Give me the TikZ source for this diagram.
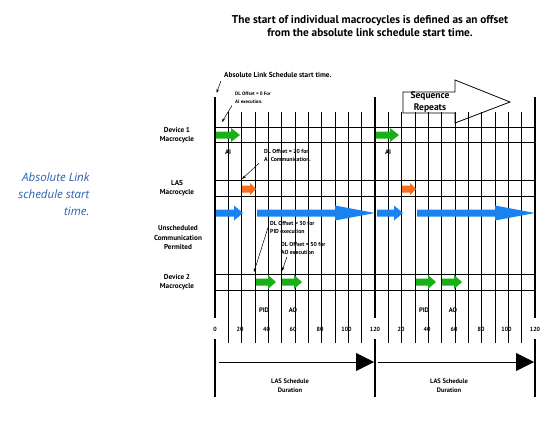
\documentclass[tikz,border=0pt]{standalone}
\usepackage{fontspec}
\setmainfont{PT Sans}
\newfontfamily\notefont{Open Sans}
\usetikzlibrary{arrows.meta}

\definecolor{lasblue}{RGB}{25,130,240}
\definecolor{devgreen}{RGB}{25,175,25}
\definecolor{lasorange}{RGB}{245,110,25}
\definecolor{notetext}{RGB}{40,95,175}

% colour, from x, to x, y, head length, head half height
\newcommand{\blockarrow}[6]{%
  \fill[#1] (#2,#4-3.5) -- (#3-#5,#4-3.5) -- (#3-#5,#4-#6) -- (#3,#4)
            -- (#3-#5,#4+#6) -- (#3-#5,#4+3.5) -- (#2,#4+3.5) -- cycle;}

\begin{document}
\begin{tikzpicture}[x=1pt,y=-1pt,
    rowlabel/.style={font=\bfseries\fontsize{7.2}{9.5}\selectfont,align=center,inner sep=0pt},
    offsetnote/.style={font=\bfseries\fontsize{5.8}{8}\selectfont,align=left,anchor=west,inner sep=0pt},
    ticklabel/.style={font=\bfseries\fontsize{6}{7}\selectfont,inner sep=0pt},
    steplabel/.style={font=\bfseries\fontsize{6.6}{7}\selectfont,inner sep=0pt},
    pointer/.style={-{Stealth[length=4pt,width=2.6pt]},line width=0.5pt},
    durarrow/.style={-{Triangle[length=18pt,width=18pt]},line width=0.8pt},
    cycleline/.style={line width=1.8pt},
    slotline/.style={line width=0.8pt}]

    \useasboundingbox (0,0) rectangle (555,423);

    \node[font=\bfseries\fontsize{11.3}{13}\selectfont,align=center] (title) at (370,26)
        {The start of individual macrocycles is defined as an offset\\from the absolute link schedule start time.};

    \node[font=\notefont\itshape\fontsize{11.5}{17}\selectfont,text=notetext,align=right,anchor=east] (abslink) at (93,194)
        {Absolute Link\\schedule start\\time.};

    % sequence repeats
    \draw [line width=0.8pt,fill=white] (403,92) -- (455,92) -- (455,80) -- (510,102)
                                        -- (455,123) -- (455,113) -- (403,113) -- cycle;
    \node[font=\bfseries\fontsize{9.5}{11.5}\selectfont,align=center] (repeat) at (430,102) {Sequence\\Repeats};

    % grid
    \foreach \k in {1,...,11}
        \draw [slotline] (215+13.333*\k,112) -- (215+13.333*\k,343)
                         (375+13.333*\k,112) -- (375+13.333*\k,343);
    \foreach \x in {215,375,535}
        \draw [cycleline] (\x,97) -- (\x,318) (\x,339) -- (\x,397);
    \foreach \y in {127,142,180,196,274,290}
        \draw [slotline] (215,\y) -- (535,\y);

    % row labels
    \node[rowlabel] (dev1)    at (177,135) {Device 1\\Macrocycle};
    \node[rowlabel] (las)     at (177,188) {LAS\\Macrocycle};
    \node[rowlabel] (unsched) at (178,238) {Unscheduled\\Communication\\Permited};
    \node[rowlabel] (dev2)    at (177,282) {Device 2\\Macrocycle};

    % activities
    \blockarrow{devgreen}{216}{240}{135}{9}{7}
    \blockarrow{devgreen}{376}{399}{135}{9}{7}
    \blockarrow{lasorange}{242}{256}{189}{6}{6}
    \blockarrow{lasorange}{402}{416}{189}{6}{6}
    \blockarrow{lasblue}{216}{243}{213}{9}{7.5}
    \blockarrow{lasblue}{257}{375}{213}{40}{7.5}
    \blockarrow{lasblue}{377}{403}{213}{9}{7.5}
    \blockarrow{lasblue}{417}{535}{213}{40}{7.5}
    \blockarrow{devgreen}{256}{276}{282}{8}{7}
    \blockarrow{devgreen}{282}{302}{282}{8}{7}
    \blockarrow{devgreen}{416}{436}{282}{8}{7}
    \blockarrow{devgreen}{442}{462}{282}{8}{7}

    \node[steplabel] (ai1)  at (228,152) {AI};
    \node[steplabel] (ai2)  at (388,152) {AI};
    \node[steplabel] (pid1) at (264,310) {PID};
    \node[steplabel] (ao1)  at (293,310) {AO};
    \node[steplabel] (pid2) at (424,310) {PID};
    \node[steplabel] (ao2)  at (453,310) {AO};

    \foreach \x/\t [count=\i] in {215/0,240/20,266.5/40,293/60,320/80,346.5/100,375/120,
                                  401/20,427/40,454/60,481/80,506.5/100,535/120}
        \node[ticklabel] (tick\i) at (\x,329) {\t};

    % offsets
    \node[offsetnote,font=\bfseries\fontsize{7.3}{8}\selectfont] (abs) at (224,75) {Absolute Link Schedule start time.};
    \node[offsetnote,font=\bfseries\fontsize{4.9}{8}\selectfont] (dl0) at (235,97.5) {DL Offset = 0 For\\AI execution.};
    \node[offsetnote] (dl20) at (264,155)   {DL Offset = 20 for\\AI Communication.};
    \node[offsetnote] (dl30) at (270,227.5) {DL Offset = 30 for\\PID execution};
    \node[offsetnote] (dl50) at (281,248.5) {DL Offset = 50 for\\AO execution};

    \coordinate (absTip)  at (216.5,93);
    \coordinate (dl0Tip)  at (222,122);
    \coordinate (dl20Tip) at (242,179);
    \coordinate (dl30Tip) at (254,272);
    \coordinate (dl50Tip) at (282,271);

    \draw [pointer] ([xshift=-3pt,yshift=-3pt]abs.south west) -- (absTip);
    \draw [pointer] ([xshift=-3pt,yshift=-2pt]dl0.south west) -- (dl0Tip);
    \draw [pointer] ([xshift=-5pt,yshift=-2pt]dl20.south west) -- (dl20Tip);
    \draw [pointer] ([xshift=-2pt]dl30.west) -- (dl30Tip);
    \draw [pointer] ([xshift=6pt,yshift=-2pt]dl50.south west) -- (dl50Tip);

    % schedule duration
    \coordinate (durA1) at (219,362);
    \coordinate (durB1) at (374,362);
    \coordinate (durA2) at (378,362);
    \coordinate (durB2) at (534,362);
    \draw [durarrow] (durA1) -- (durB1);
    \draw [durarrow] (durA2) -- (durB2);
    \node[rowlabel,font=\bfseries\fontsize{6.5}{9}\selectfont] (dur1) at (290,386) {LAS Schedule\\Duration};
    \node[rowlabel,font=\bfseries\fontsize{6.5}{9}\selectfont] (dur2) at (449,386) {LAS Schedule\\Duration};

\end{tikzpicture}
\end{document}
